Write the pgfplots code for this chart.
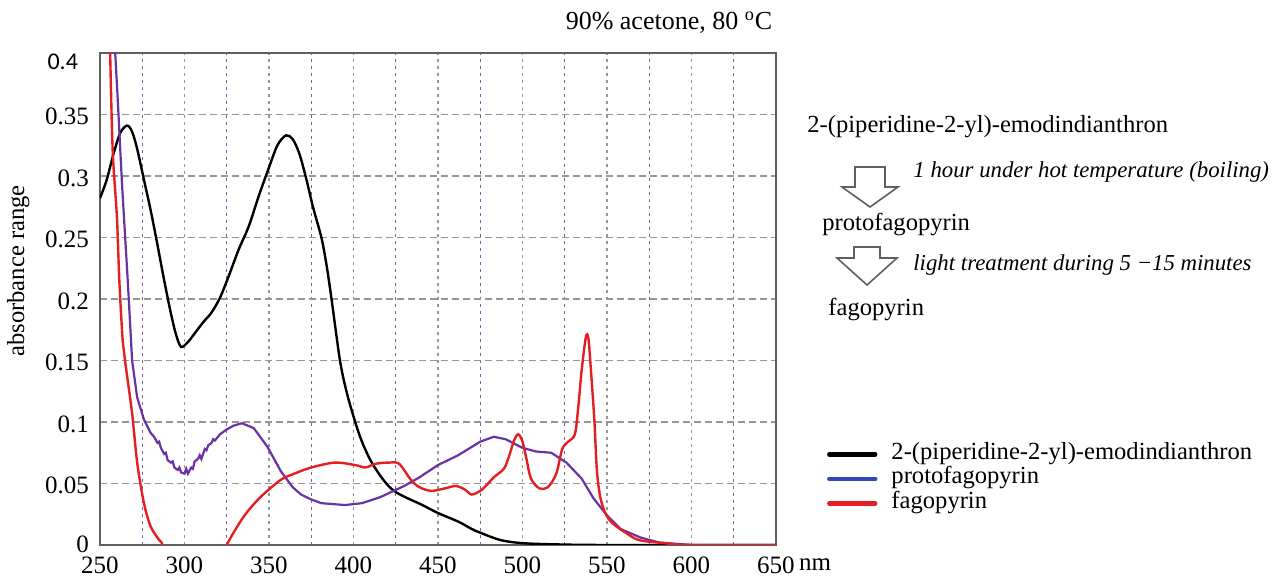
\documentclass[border=0pt]{standalone}
\usepackage{fontspec}
\setmainfont{Liberation Serif}
\newfontfamily\calibri{Carlito}
\usepackage{pgfplots}
\usepackage{pgfplotstable}
\pgfplotsset{compat=1.18}

\definecolor{cpurple}{RGB}{105,50,165}
\definecolor{cred}{RGB}{228,30,35}
\definecolor{cblue}{RGB}{50,70,185}
\definecolor{gridgray}{RGB}{150,150,150}
\definecolor{gridpurple}{RGB}{125,95,160}
\definecolor{frame}{RGB}{95,95,95}

% 2-(piperidine-2-yl)-emodindianthron
\pgfplotstableread{
nm   a
250 0.282
254 0.297
258 0.318
262 0.335
266 0.341
269 0.336
272 0.322
276 0.297
280 0.272
284 0.244
288 0.215
292 0.188
295 0.171
298 0.161
302 0.165
306 0.172
311 0.181
316 0.189
321 0.201
326 0.218
332 0.240
338 0.259
344 0.284
350 0.307
355 0.325
360 0.333
364 0.330
368 0.318
372 0.298
376 0.275
381 0.250
384 0.228
387 0.200
392 0.150
396 0.124
401 0.100
405 0.084
410 0.069
415 0.058
420 0.049
425 0.043
432 0.038
440 0.033
450 0.026
462 0.019
470 0.013
475 0.010
487 0.004
500 0.0015
520 0.0005
550 0
650 0
}\tblack

% protofagopyrin
\pgfplotstableread{
nm   a
257 0.46
259 0.400
260.5 0.362
263 0.294
266.5 0.213
269 0.150
272 0.120
276 0.102
280 0.091
282 0.088
284 0.083
285 0.084
286 0.079
288 0.074
289 0.075
290 0.069
292 0.067
293 0.068
294 0.063
296 0.061
297 0.063
298 0.059
300 0.058
301 0.062
302 0.058
304 0.063
305 0.062
306 0.068
308 0.070
309 0.073
310 0.070
312 0.078
313 0.077
314 0.081
316 0.083
317 0.086
318 0.085
321 0.090
325 0.094
329 0.097
334 0.099
341 0.095
349 0.080
357 0.060
364 0.047
369 0.041
375 0.037
381 0.034
395 0.0325
405 0.034
416 0.039
430 0.048
439 0.055
450 0.065
462 0.073
475 0.084
483 0.088
490 0.086
500 0.079
508 0.076
517 0.075
526 0.067
535 0.054
542 0.038
550 0.024
558 0.013
570 0.006
581 0.002
600 0
650 0
}\tpurple

% fagopyrin
\pgfplotstableread{
nm   a
255 0.46
256 0.400
257.5 0.321
260 0.267
261.5 0.213
263.5 0.165
265 0.148
269 0.107
272 0.067
276 0.034
280 0.015
285 0.004
287 0.0
289 -0.02
300 -0.05
320 -0.05
324 -0.01
325 0.0
335 0.023
345 0.039
357 0.053
365 0.058
375 0.063
389 0.067
401 0.065
407 0.063
413 0.066
421 0.067
427 0.066
434 0.053
439 0.047
446 0.044
454 0.046
460.5 0.048
466 0.045
470 0.041
476 0.045
483 0.055
489 0.062
492 0.072
495 0.085
497.5 0.090
500 0.084
502.5 0.069
505 0.054
510 0.046
515 0.047
520 0.058
523.5 0.078
527 0.084
531 0.090
533 0.112
535 0.142
537.5 0.169
539 0.168
540.5 0.142
542.5 0.102
544 0.061
546 0.039
549 0.026
553 0.018
561 0.010
569 0.004
584 0.0015
600 0
650 0
}\tred

\begin{document}
\begin{tikzpicture}
\begin{axis}[
    at={(0,0)}, anchor=south west,
    scale only axis,
    width=338pt, height=246pt,
    xmin=250, xmax=650, ymin=0, ymax=0.4,
    xtick={250,300,350,400,450,500,550,600,650},
    minor xtick={275,325,375,425,475,525,575,625},
    ytick={0,0.05,0.1,0.15,0.2,0.25,0.3,0.35},
    yticklabels={\raisebox{3pt}{\textrm{0}},\textrm{0.05},\textrm{0.1},\textrm{0.15},
                 \textrm{0.2},\textrm{0.25},\textrm{0.3},\textrm{0.35}},
    xticklabels={\textrm{250},\textrm{300},\textrm{350},\textrm{400},\textrm{450},
                 \textrm{500},\textrm{550},\textrm{600},\textrm{650}},
    major tick length=0pt, minor tick length=0pt,
    xmajorgrids, xminorgrids, ymajorgrids,
    major x grid style={gridgray, line width=0.7pt, dash pattern=on 1.5pt off 2pt},
    minor x grid style={gridpurple, line width=0.7pt, dash pattern=on 1.5pt off 2pt},
    major y grid style={gridgray, line width=0.7pt, dash pattern=on 3.5pt off 2pt},
    axis line style={frame, line width=0.9pt},
    ticklabel style={font=\fontsize{12.5}{14}\selectfont},
    /pgf/number format/assume math mode=true,
    yticklabel style={xshift=-2pt, yshift=-1pt},
    xticklabel style={yshift=-2.5pt},
    ylabel={absorbance range},
    ylabel style={at={(axis description cs:-0.121,0.557)}, anchor=center,
                  font=\fontsize{12.3}{14}\selectfont},
    legend style={draw=none, fill=none, at={(axis description cs:1.075,0.21)},
                  anchor=north west, inner sep=0pt,
                  font=\fontsize{12.3}{14}\selectfont,
                  nodes={inner sep=0pt, text height=8.5pt, text depth=3.75pt},
                  /tikz/every odd column/.append style={column sep=7pt}},
    legend cell align=left,
    legend image code/.code={\draw[#1, line width=2.2pt, line cap=round] (0pt,0pt) -- (23pt,0pt);},
]
\addlegendimage{black}
\addlegendimage{cblue}
\addlegendimage{cred}
\addplot[forget plot, black, line width=1.2pt, smooth] table[x=nm, y=a] {\tblack};
\addplot[forget plot, cpurple, line width=1.1pt] table[x=nm, y=a] {\tpurple};
\addplot[forget plot, cred, line width=1.2pt, smooth] table[x=nm, y=a] {\tred};
\legend{2-(piperidine-2-yl)-emodindianthron, protofagopyrin, fagopyrin}
\end{axis}

% annotations in reference pixel coordinates
\begin{scope}[x=0.5pt, y=-0.5pt, shift={(-50pt,272.5pt)}]
  \node[font=\fontsize{13}{15}\selectfont] at (669,23) {90\% acetone, 80 \textsuperscript{o}C};
  \node[anchor=east, font=\calibri\fontsize{12}{14}\selectfont] at (85,62) {0.4};
  \node[font=\fontsize{12.5}{14}\selectfont] at (815,565) {nm};
  \begin{scope}[font=\fontsize{12.3}{14}\selectfont]
    \node[anchor=west, inner sep=0pt] at (807,127) {2-(piperidine-2-yl)-emodindianthron};
    \node[anchor=west, inner sep=0pt] at (822,225) {protofagopyrin};
    \node[anchor=west, inner sep=0pt] at (828,310) {fagopyrin};
  \end{scope}
  \begin{scope}[font=\itshape\fontsize{11.4}{13}\selectfont]
    \node[anchor=west, inner sep=0pt] at (913,172) {1 hour under hot temperature (boiling)};
    \node[anchor=west, inner sep=0pt] at (913,265) {light treatment during 5 −15 minutes};
  \end{scope}
  \draw[frame, line width=0.8pt, line join=miter]
    (855,167) -- (885,167) -- (885,187) -- (898,187) -- (870,207) -- (842,187) -- (855,187) -- cycle;
  \draw[frame, line width=0.8pt, line join=miter]
    (854,247) -- (880,247) -- (880,258) -- (897,258) -- (867,285) -- (837,258) -- (854,258) -- cycle;
\end{scope}

\pgfresetboundingbox
\path (-50pt,-16pt) rectangle (587pt,272.5pt);
\end{tikzpicture}
\end{document}
